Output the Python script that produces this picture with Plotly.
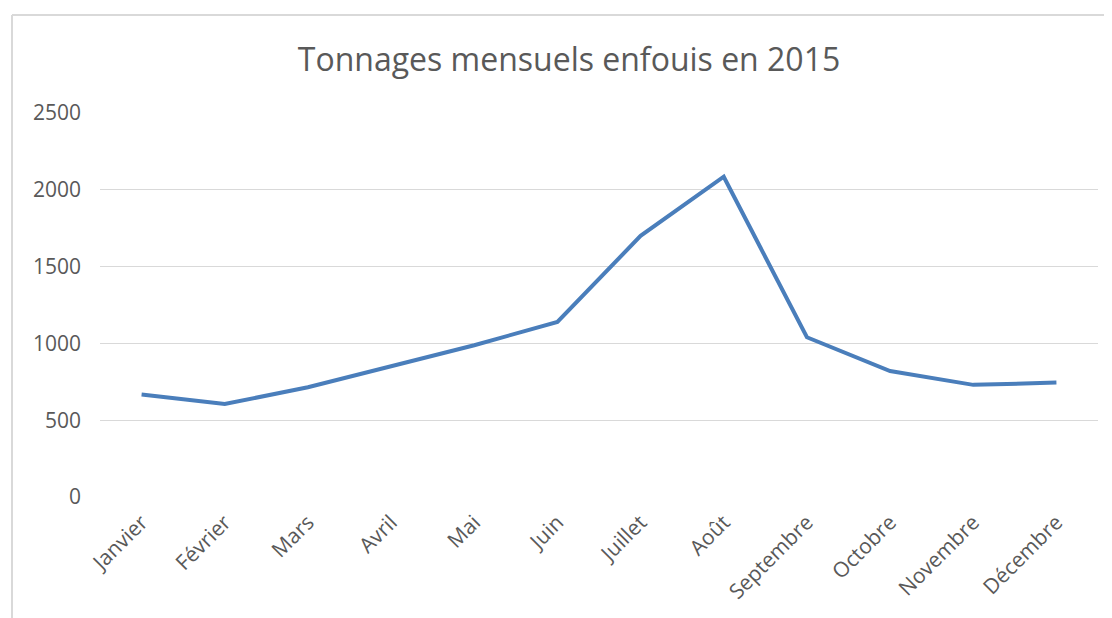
import plotly.graph_objects as go

months = ["Janvier", "Février", "Mars", "Avril", "Mai", "Juin",
          "Juillet", "Août", "Septembre", "Octobre", "Novembre", "Décembre"]
tonnages = [667, 605, 715, 850, 988, 1140, 1700, 2085, 1040, 820, 730, 745]
y_ticks = [0, 500, 1000, 1500, 2000, 2500]

FONT = "Open Sans"
GREY = "#595959"

fig = go.Figure()
fig.add_trace(go.Scatter(
    x=months, y=tonnages, mode="lines",
    line=dict(color="#4a7ebb", width=4),
    hoverinfo="x+y", showlegend=False,
))

# page body has an 8px margin: figure occupies window pixels 8..1112 x 8..618
W, H = 1104, 610
L, R, T, B = 92, 14, 105, 121
pw, ph = W - L - R, H - T - B
BX, BY = 4, 7  # chart-area border position (figure pixels)

fig.update_layout(
    width=W, height=H,
    margin=dict(l=L, r=R, t=T, b=B, autoexpand=False),
    paper_bgcolor="white", plot_bgcolor="white",
    font=dict(family=FONT, color=GREY, size=21),
    title=dict(text="Tonnages mensuels enfouis en 2015",
               font=dict(family=FONT, size=32, color=GREY),
               x=561 / W, xanchor="center", xref="container",
               y=1 - 52 / H, yanchor="middle", yref="container"),
    xaxis=dict(type="category", range=[-0.5, len(months) - 0.5],
               showgrid=False, showline=False, zeroline=False,
               tickangle=-45, ticks="", ticklabelstandoff=8,
               tickfont=dict(family=FONT, size=21, color=GREY)),
    yaxis=dict(range=[0, 2500], tickvals=y_ticks, showgrid=True,
               gridcolor="#d9d9d9", gridwidth=1, zeroline=False, showline=False,
               ticks="", ticklabelstandoff=18,
               tickfont=dict(family=FONT, size=21, color=GREY)),
    shapes=[
        dict(type="line", xref="paper", yref="paper",
             x0=(BX - L) / pw, x1=(W + 20 - L) / pw,
             y0=(H - B - BY) / ph, y1=(H - B - BY) / ph,
             line=dict(color="#d9d9d9", width=2)),
        dict(type="line", xref="paper", yref="paper",
             x0=(BX - L) / pw, x1=(BX - L) / pw,
             y0=(H - B - BY) / ph, y1=-(B + 20) / ph,
             line=dict(color="#d9d9d9", width=2)),
    ],
)

fig.write_html("out.html")
